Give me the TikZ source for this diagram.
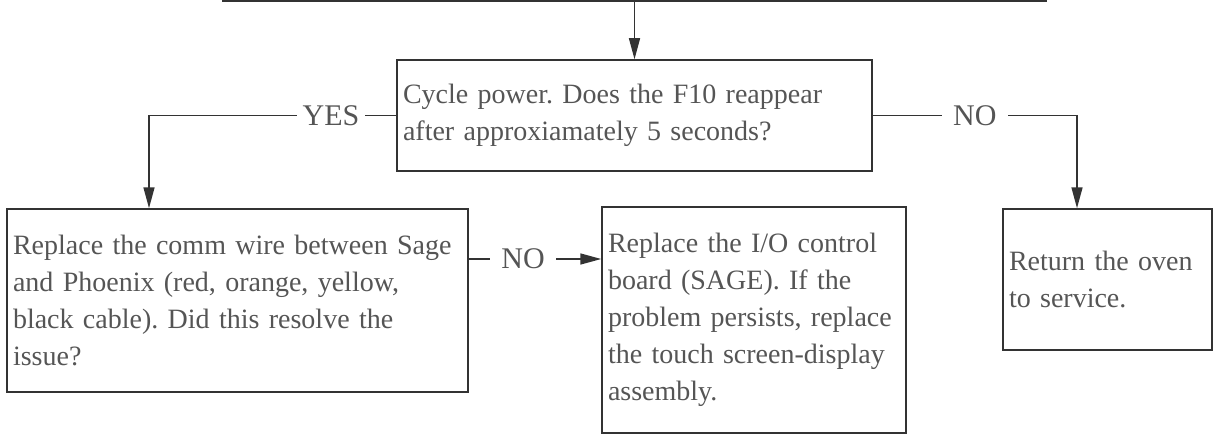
\documentclass[tikz,border=0pt]{standalone}
\usepackage{fontspec}
\setmainfont{Liberation Serif}
\usetikzlibrary{arrows.meta}

\definecolor{linegray}{HTML}{333333}
\definecolor{textgray}{HTML}{555555}

\begin{document}
\frenchspacing
\begin{tikzpicture}[x=1pt, y=-1pt, >={Triangle[length=21pt,width=11pt]},
  line width=1.5pt, color=linegray,
  box/.style={draw=linegray, rectangle, inner xsep=6pt, inner ysep=0pt,
              align=left, text=textgray, font=\fontsize{28}{37}\selectfont},
  lbl/.style={fill=white, text=textgray, inner xsep=11pt, inner ysep=0pt,
              font=\fontsize{30}{37}\selectfont}]
  \useasboundingbox (0,0) rectangle (1214,436);

  \node (cycle) [box, text width=463pt, minimum height=111pt] at (634.5,115.5)
    {Cycle power. Does the F10 reappear\\after approxiamately 5 seconds?};
  \node (replace) [box, text width=449pt, minimum height=183pt] at (237.5,300.5)
    {Replace the comm wire between Sage\\and Phoenix (red, orange, yellow,\\black cable). Did this resolve the\\issue?};
  \node (io) [box, text width=292pt, minimum height=226pt] at (754,320)
    {Replace the I/O control\\board (SAGE). If the\\problem persists, replace\\the touch screen-display\\assembly.};
  \node (return) [box, text width=197pt, minimum height=141pt] at (1107.5,279.5)
    {Return the oven\\to service.};

  \coordinate (busl) at (222,1);
  \coordinate (busr) at (1047,1);
  \coordinate (yesbend) at (149,0);
  \coordinate (nobend) at (1077,0);
  \coordinate (nomid) at (0,259);

  \draw (busl) -- (busr);
  \draw[->] (cycle.north |- busl) -- (cycle.north);
  \draw[->] (cycle.west) -- node[lbl, inner xsep=6pt, pos=0.264] {YES}
    (cycle.west -| yesbend) -- (yesbend |- replace.north);
  \draw[->] (cycle.east) -- node[lbl] {NO}
    (cycle.east -| nobend) -- (nobend |- return.north);
  \draw[->] (nomid -| replace.east) -- node[lbl, pos=0.41] {NO}
    (nomid -| io.west);
\end{tikzpicture}
\end{document}
